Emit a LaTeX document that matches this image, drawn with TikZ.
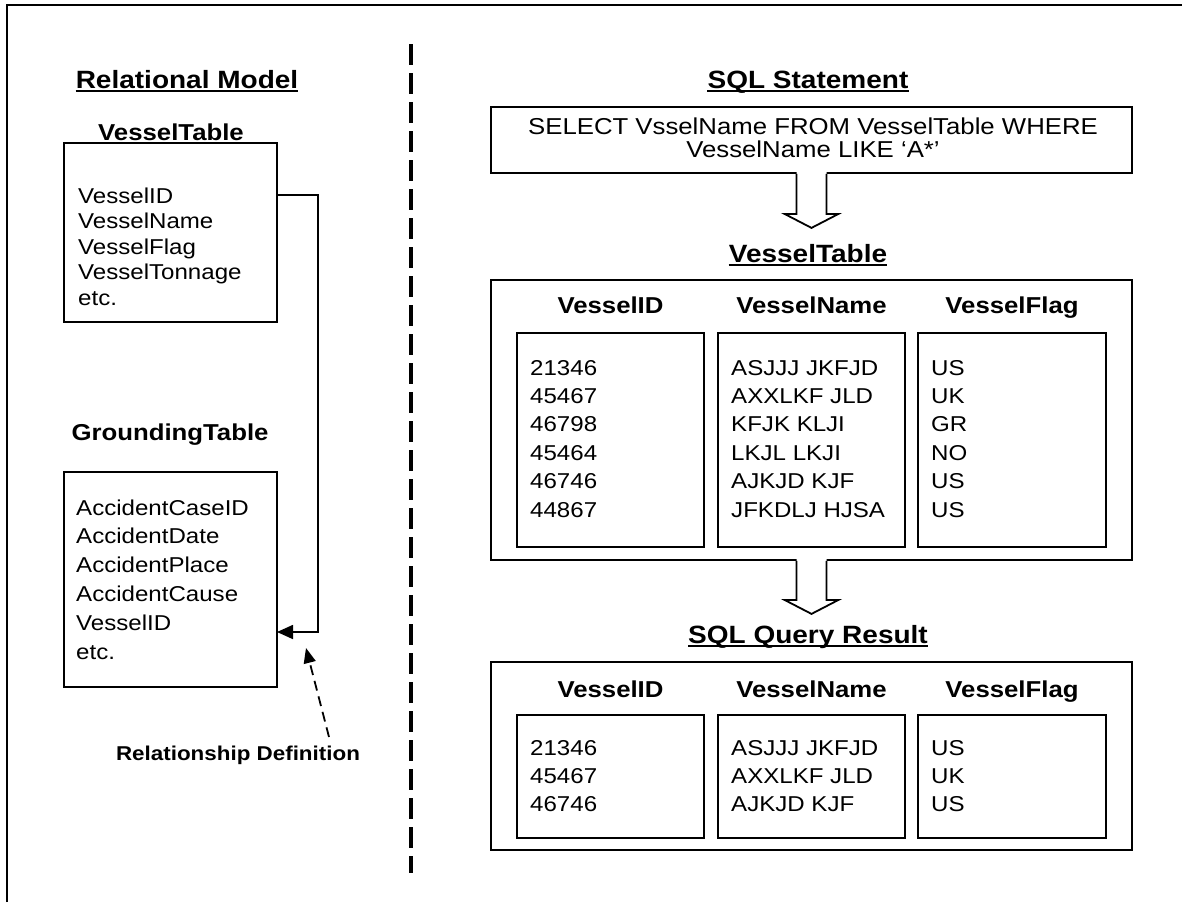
\documentclass[tikz,border=0pt]{standalone}
\usepackage{fontspec}
\setmainfont[FakeStretch=1.12]{Liberation Sans}
\usetikzlibrary{arrows.meta,calc}

% hollow block arrow pointing down from a box edge (#1) to a tip (#2)
\newcommand{\hollowdown}[2]{%
  \fill[white] ($(#1)+(-15,-2)$) -- ($(#2)+(-15,-14)$) -- ($(#2)+(-27,-14)$) -- (#2)
     -- ($(#2)+(27,-14)$) -- ($(#2)+(15,-14)$) -- ($(#1)+(15,-2)$) -- cycle;
  \draw[blockedge] ($(#1)+(-15,0)$) -- ($(#2)+(-15,-14)$) -- ($(#2)+(-27,-14)$) -- (#2)
     -- ($(#2)+(27,-14)$) -- ($(#2)+(15,-14)$) -- ($(#1)+(15,0)$);}
% underline under a heading node
\newcommand{\ulnode}[1]{%
  \draw[uline] ([yshift=-3pt]#1.base west) -- ([yshift=-3pt]#1.base east);}

\begin{document}
\begin{tikzpicture}[x=1pt,y=-1pt,
  frame/.style={line width=2pt},
  divider/.style={line width=4pt,dash pattern=on 21pt off 8pt},
  tbox/.style={draw,line width=1.8pt,rectangle,inner sep=0pt},
  item/.style={anchor=base west,inner sep=0pt,font=\fontsize{21.5}{25}\selectfont},
  colhead/.style={anchor=base,inner sep=0pt,font=\bfseries\fontsize{23}{27}\selectfont},
  title/.style={anchor=base,inner sep=0pt,font=\bfseries\fontsize{23}{27}\selectfont},
  utitle/.style={anchor=base,inner sep=0pt,font=\bfseries\fontsize{25}{29}\selectfont},
  uline/.style={line width=2.5pt},
  link/.style={line width=1.7pt,-{Triangle[length=16pt,width=14pt]}},
  dlink/.style={line width=1.8pt,dash pattern=on 10pt off 6pt,-{Triangle[length=15pt,width=12pt]}},
  blockedge/.style={line width=1.8pt,line join=miter},
  sqltext/.style={inner sep=0pt,align=center,font=\fontsize{23}{23.5}\selectfont}]

\useasboundingbox (0,0) rectangle (1182,902);

% page frame and the dashed divider
\draw[frame] (7,902) -- (7,5) -- (1182,5);
\draw[divider] (411,44) -- (411,873);

% ---------- left half: relational model ----------
\node[utitle] (relmodel) at (187,88) {Relational Model};
\ulnode{relmodel}

\node[title] (vtitle) at (171,140) {VesselTable};
\node[tbox,minimum width=213,minimum height=179] (vbox) at (170.5,232.5) {};
\foreach \t [count=\i from 0] in {VesselID,VesselName,VesselFlag,VesselTonnage,etc.}
  \node[item] (v\i) at (78,{203+25.6*\i}) {\t};

\node[title] (gtitle) at (170,440) {GroundingTable};
\node[tbox,minimum width=213,minimum height=215] (gbox) at (170.5,579.5) {};
\foreach \t [count=\i from 0] in {AccidentCaseID,AccidentDate,AccidentPlace,AccidentCause,VesselID,etc.}
  \node[item] (g\i) at (76,{515+28.9*\i}) {\t};

\node[anchor=base,inner sep=0pt,font=\bfseries\fontsize{20}{24}\selectfont] (reldef) at (238,760) {Relationship Definition};

% foreign key link VesselTable.VesselID -> GroundingTable.VesselID
\coordinate (bend) at (318,0);
\coordinate (gin) at (277,632);
\draw[link] (vbox.east |- v0) -- (bend |- v0) -- (bend |- gin) -- (gin);

% pointer from the caption to the link
\coordinate (dtail) at (329,737);
\coordinate (dtip) at (306,648);
\draw[dlink] (dtail) -- (dtip);

% ---------- right half: SQL query ----------
\node[utitle] (sqlhead) at (808,88) {SQL Statement};
\ulnode{sqlhead}
\node[tbox,minimum width=641,minimum height=66] (sql) at (811.5,140) {};
\node[sqltext] (sqlt) at (813,138) {SELECT VsselName FROM VesselTable WHERE\\VesselName LIKE ‘A*’};

\node[utitle] (vthead) at (808,262) {VesselTable};
\ulnode{vthead}
\node[tbox,minimum width=641,minimum height=280] (vt) at (811.5,420) {};
\node[colhead] (vh1) at (610.5,313) {VesselID};
\node[colhead] (vh2) at (811.5,313) {VesselName};
\node[colhead] (vh3) at (1012,313) {VesselFlag};
\node[tbox,minimum width=187,minimum height=214] (vc1) at (610.5,440) {};
\node[tbox,minimum width=187,minimum height=214] (vc2) at (811.5,440) {};
\node[tbox,minimum width=188,minimum height=214] (vc3) at (1012,440) {};
\foreach \id/\nm/\fl [count=\i from 0] in
  {21346/ASJJJ JKFJD/US, 45467/AXXLKF JLD/UK, 46798/KFJK KLJI/GR,
   45464/LKJL LKJI/NO, 46746/AJKJD KJF/US, 44867/JFKDLJ HJSA/US}{
  \node[item] (vi\i) at (530,{375+28.4*\i}) {\id};
  \node[item] (vn\i) at (731,{375+28.4*\i}) {\nm};
  \node[item] (vf\i) at (931,{375+28.4*\i}) {\fl};
}

\node[utitle] (reshead) at (808,643) {SQL Query Result};
\ulnode{reshead}
\node[tbox,minimum width=641,minimum height=188] (res) at (811.5,756) {};
\node[colhead] (rh1) at (610.5,697) {VesselID};
\node[colhead] (rh2) at (811.5,697) {VesselName};
\node[colhead] (rh3) at (1012,697) {VesselFlag};
\node[tbox,minimum width=187,minimum height=123] (rc1) at (610.5,776.5) {};
\node[tbox,minimum width=187,minimum height=123] (rc2) at (811.5,776.5) {};
\node[tbox,minimum width=188,minimum height=123] (rc3) at (1012,776.5) {};
\foreach \id/\nm/\fl [count=\i from 0] in
  {21346/ASJJJ JKFJD/US, 45467/AXXLKF JLD/UK, 46746/AJKJD KJF/US}{
  \node[item] (ri\i) at (530,{755+28*\i}) {\id};
  \node[item] (rn\i) at (731,{755+28*\i}) {\nm};
  \node[item] (rf\i) at (931,{755+28*\i}) {\fl};
}

% block arrows between the stages
\coordinate (tip1) at ($(sql.south)+(0,54)$);
\hollowdown{sql.south}{tip1}
\coordinate (tip2) at ($(vt.south)+(0,53)$);
\hollowdown{vt.south}{tip2}

\end{tikzpicture}
\end{document}
